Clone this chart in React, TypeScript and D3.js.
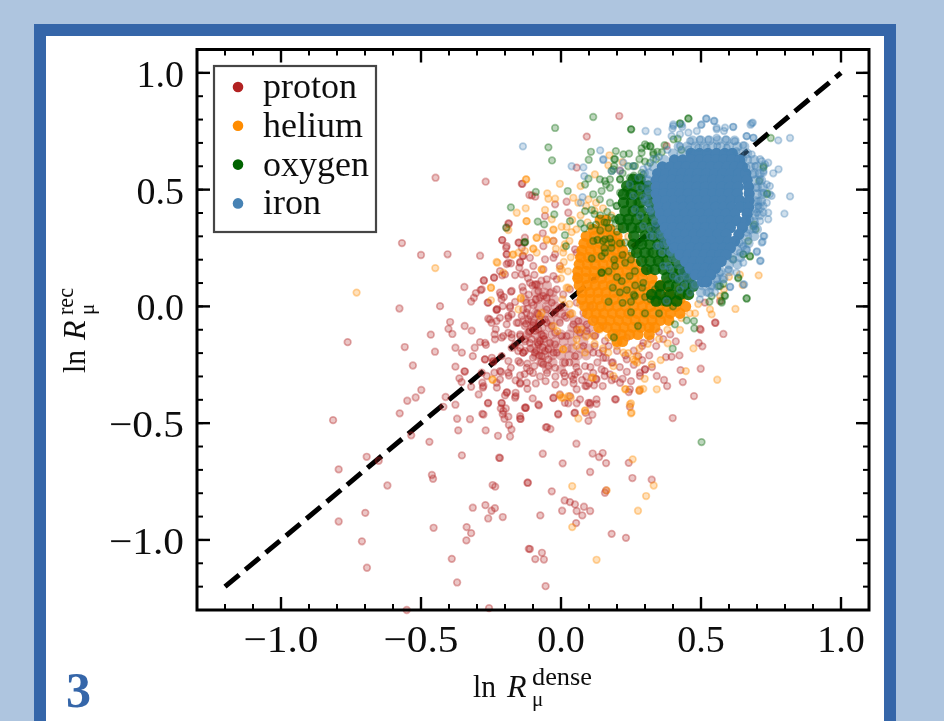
import React from "react";
import * as d3 from "d3";

type P = [number, number];
type Row = [number, number[]];

const seriesNames = ["proton", "helium", "oxygen", "iron"];
const seriesColors = ["#b22222", "#ff8c00", "#006400", "#4682b4"];
const xMajor = [-1, -0.5, 0, 0.5, 1];
const yMajor = [-1, -0.5, 0, 0.5, 1];
const xTickLabels = ["−1.0", "−0.5", "0.0", "0.5", "1.0"];
const yTickLabels = ["−1.0", "−0.5", "0.0", "0.5", "1.0"];
const diagonal: P[] = [[-1.2, -1.2], [1, 1]];

const protonPoints: P[] = [
[-0.762,-0.153],[-0.558,-0.174],[-0.465,-0.121],[-0.45,-0.194],[-0.529,-0.253],[-0.499,-0.358],[-0.519,-0.39],[-0.549,-0.404],[-0.576,-0.458],[-0.814,-0.487],[-0.412,-0.388],[-0.42,-0.43],[-0.377,-0.421],[-0.371,-0.481],[-0.325,-0.483],[-0.281,-0.46],[-0.367,-0.531],[-0.269,-0.531],[-0.535,-0.552],[-0.47,-0.58],[-0.694,-0.644],[-0.651,-0.661],[-0.794,-0.698],[-0.354,-0.638],[-0.221,-0.648],[-0.218,-0.649],[-0.461,-0.722],[-0.457,-0.738],[-0.62,-0.767],[-0.244,-0.765],[-0.235,-0.772],[-0.12,-0.755],[-0.699,-0.884],[-0.794,-0.921],[-0.315,-0.862],[-0.27,-0.851],[-0.248,-0.875],[-0.236,-0.864],[-0.26,-0.908],[-0.208,-0.902],[-0.455,-0.948],[-0.337,-0.945],[-0.321,-0.971],[-0.338,-1.002],[-0.711,-1.006],[-0.693,-1.119],[-0.39,-1.081],[-0.371,-1.182],[-0.115,-1.038],[-0.551,-1.3],[-0.257,-1.292],
[-0.396,-0.067],[-0.402,-0.096],[-0.388,-0.118],[-0.344,-0.084],[-0.319,-0.104],[-0.289,-0.153],[-0.268,-0.165],[-0.308,-0.177],[-0.377,-0.177],[-0.354,-0.198],[-0.315,-0.213],[-0.272,-0.227],[-0.247,-0.22],[-0.242,-0.238],[-0.377,-0.258],[-0.345,-0.278],[-0.343,-0.279],[-0.283,-0.284],[-0.238,-0.284],[-0.214,-0.281],[-0.363,-0.308],[-0.355,-0.324],[-0.321,-0.344],[-0.281,-0.327],[-0.279,-0.348],[-0.218,-0.313],[-0.186,-0.296],[-0.162,-0.317],[-0.146,-0.331],[-0.294,-0.377],[-0.229,-0.348],[-0.193,-0.367],[-0.2,-0.381],[-0.162,-0.384],[-0.162,-0.37],[-0.261,-0.415],[-0.212,-0.415],[-0.215,-0.437],[-0.197,-0.437],[-0.126,-0.434],[-0.208,-0.462],[-0.188,-0.472],[-0.202,-0.481],[-0.146,-0.481],[-0.186,-0.508],[-0.177,-0.527],[-0.225,-0.554],[-0.182,-0.557],
[-0.233,-0.098],[-0.237,-0.12],[-0.212,-0.134],[-0.188,-0.113],[-0.176,-0.134],[-0.146,-0.12],[-0.129,-0.141],[-0.164,-0.163],[-0.135,-0.198],[-0.153,-0.191],[-0.188,-0.234],[-0.179,-0.263],[-0.146,-0.241],[-0.122,-0.263],[-0.146,-0.296],[-0.122,-0.327],[-0.12,-0.353],
[-0.448,0.551],[-0.269,0.534],[-0.14,0.525],[-0.113,0.477],[-0.186,0.354],[-0.194,0.337],[-0.568,0.271],[-0.5,0.22],[-0.405,0.223],[-0.289,0.217],[-0.21,0.284],[-0.196,0.251],[-0.194,0.223],[-0.15,0.273],[-0.14,0.251],[-0.135,0.216],[-0.146,0.19],[-0.194,0.181],[-0.179,0.184],[-0.149,0.166],[-0.218,0.151],[-0.21,0.133],[-0.164,0.134],[-0.125,0.144],[-0.239,0.123],[-0.276,0.111],[-0.345,0.083],[-0.287,0.07],[-0.304,0.057],[-0.311,0.037],[-0.321,0.021],[-0.577,-0.009],[-0.432,0.001],[-0.215,0.049],[-0.179,0.063],[-0.138,0.083],[-0.204,0.04],[-0.164,0.019],[-0.262,0.016],[-0.23,-0.016],[-0.228,-0.012],[-0.208,0.001],[-0.123,0.016],[-0.176,-0.034],[-0.26,-0.053],[-0.218,-0.049],[-0.248,-0.07],[-0.194,-0.077],[-0.152,-0.07],[-0.129,-0.084],[-0.182,0.001],[-0.135,-0.013],[-0.188,-0.049],
[-0.138,0.525],[-0.104,0.475],[-0.092,0.47],[-0.021,0.437],[-0.057,0.387],[0.026,0.401],[0.02,0.448],[0.056,0.594],[0.092,0.727],[0.208,0.815],[0.377,0.687],[0.211,0.582],[-0.065,0.313],[-0.027,0.28],[-0.129,0.294],[-0.063,0.258],[-0.137,0.216],[-0.021,0.223],[0.514,0.016],[0.568,0.023],[0.496,-0.096],[0.55,-0.07],
[0.552,-0.07],[0.58,-0.118],[0.499,-0.1],[0.492,-0.156],[0.505,-0.171],[0.423,-0.21],[0.395,-0.216],[0.375,-0.217],[0.427,-0.273],[0.499,-0.267],[0.435,-0.324],[0.368,-0.315],[0.379,-0.341],[0.342,-0.298],[0.475,-0.384],[0.399,-0.478],[0.28,-0.36],[0.242,-0.367],[0.246,-0.43],[0.196,-0.398],[0.282,-0.284],[0.193,-0.31],[0.181,-0.316],[0.156,-0.277],[0.156,-0.298],[0.118,-0.338],[0.149,-0.341],[0.087,-0.341],[0.056,-0.355],[0.127,-0.398],[0.104,-0.42],[0.127,-0.417],[0.098,-0.413],[0.056,-0.415],[0.026,-0.415],[0.014,-0.413],[-0.027,-0.393],[-0.079,-0.424],[-0.101,-0.394],[-0.126,-0.434],[-0.144,-0.482],[-0.01,-0.46],[0.048,-0.457],[0.112,-0.464],[0.098,-0.49],[0.088,-0.456],
[-0.054,-0.518],[-0.05,-0.517],[-0.038,-0.525],[0.055,-0.588],[-0.065,-0.631],[0.113,-0.63],[0.149,-0.628],[0.136,-0.645],[0.161,-0.671],[0.242,-0.67],[0.006,-0.672],[0.104,-0.709],[0.255,-0.735],[0.324,-0.742],[-0.118,-0.755],[-0.033,-0.792],[0.161,-0.788],[0.157,-0.798],[0.013,-0.831],[0.032,-0.838],[0.05,-0.848],[0.082,-0.858],[0.004,-0.875],[0.056,-0.876],[0.076,-0.895],[0.104,-0.876],[-0.074,-0.895],[0.054,-0.928],[0.181,-0.974],[0.232,-0.991],[-0.111,-1.039],[-0.068,-1.055],[-0.092,-1.082],[-0.061,-1.084],[-0.055,-1.198],
];

const protonBodyPoints: P[] = [
[-0.188,0.355],[-0.21,0.284],[-0.152,0.273],[-0.129,0.273],[-0.194,0.258],[-0.194,0.223],[-0.111,0.208],[-0.146,0.187],[-0.188,0.187],[-0.057,0.201],[-0.027,0.208],[-0.099,0.173],[-0.063,0.158],[-0.239,0.123],[-0.275,0.111],[-0.2,0.137],[-0.14,0.137],[-0.283,0.073],[-0.111,0.101],[-0.087,0.094],[-0.051,0.116],[-0.027,0.13],[-0.004,0.173],[-0.218,0.059],[-0.176,0.066],[-0.212,0.03],[-0.23,-0.013],[-0.26,0.016],[-0.182,-0.006],[-0.14,-0.041],[-0.105,0.016],[-0.075,0.037],[-0.039,0.059],[-0.015,0.073],[-0.135,0.066],[-0.254,-0.056],[-0.23,-0.063],[-0.188,-0.041],[-0.158,-0.07],[-0.117,-0.056],[-0.081,-0.034],[-0.051,-0.013],[-0.021,-0.027],[0.008,0.051],[0.032,0.073],[0.056,0.13],[-0.271,-0.156],[-0.236,-0.141],[-0.206,-0.127],[-0.176,-0.12],[-0.146,-0.127],[-0.111,-0.106],[-0.081,-0.099],[-0.051,-0.07],[-0.021,-0.113],[0.014,-0.041],[0.056,0.016],[0.08,-0.027],[0.104,0.001],[-0.271,-0.227],[-0.242,-0.234],[-0.212,-0.213],[-0.176,-0.177],[-0.146,-0.177],[-0.111,-0.156],[-0.075,-0.148],[-0.039,-0.156],[-0.015,-0.198],[0.02,-0.127],[0.056,-0.099],[0.092,-0.106],[0.121,-0.056],[0.151,-0.084],[-0.265,-0.298],[-0.218,-0.277],[-0.188,-0.284],[-0.152,-0.234],[-0.129,-0.191],[-0.093,-0.198],[-0.057,-0.191],[-0.027,-0.198],[0.014,-0.241],[0.05,-0.213],[0.08,-0.17],[0.121,-0.127],[0.157,-0.148],[0.199,-0.113],[0.235,-0.134],[-0.277,-0.341],[-0.23,-0.327],[-0.194,-0.37],[-0.146,-0.327],[-0.111,-0.277],[-0.063,-0.248],[-0.021,-0.263],[0.014,-0.298],[0.05,-0.291],[0.086,-0.256],[0.115,-0.198],[0.151,-0.22],[0.181,-0.241],[0.235,-0.227],[0.276,-0.213],[0.294,-0.156],[-0.26,-0.413],[-0.212,-0.413],[-0.164,-0.391],[-0.129,-0.434],[-0.081,-0.42],[-0.027,-0.391],[-0.004,-0.377],[0.044,-0.313],[0.092,-0.341],[0.127,-0.313],[0.175,-0.291],[0.211,-0.327],[0.246,-0.355],[0.282,-0.298],[0.3,-0.27],[-0.277,-0.463],[-0.206,-0.448],[-0.146,-0.47],[-0.01,-0.463],[0.05,-0.455],[0.104,-0.413],[0.193,-0.398],[0.032,-0.384],[0.068,-0.398],
[-0.093,0.094],[-0.081,0.066],[-0.051,0.037],[-0.033,0.016],[-0.004,-0.006],[0.02,-0.049],[0.044,-0.077],[0.068,-0.113],[-0.057,-0.056],[-0.033,-0.084],[-0.004,-0.07],[-0.063,-0.127],[-0.045,-0.184],[-0.021,-0.163],[-0.069,-0.213],[-0.045,-0.227],[-0.123,-0.027],[-0.099,-0.07],[0.038,-0.298],[-0.135,-0.198],[-0.081,-0.163],[0.002,-0.127],[0.062,-0.063],[0.092,-0.077],[-0.015,0.116],[0.056,0.23],[0.05,0.244],
[-0.118,0.12],[-0.095,0.135],[-0.07,0.11],[-0.102,0.09],[-0.115,0.05],[-0.09,0.03],[-0.063,0.045],[-0.12,-0.01],[-0.098,0.005],[-0.11,-0.04],[-0.085,-0.03],[-0.125,-0.075],[-0.1,-0.08],[-0.078,-0.065],[-0.115,-0.11],[-0.092,-0.105],[-0.07,-0.12],[-0.128,-0.15],[-0.105,-0.14],[-0.083,-0.155],[-0.06,-0.14],[-0.11,-0.18],[-0.088,-0.19],[-0.065,-0.175],[-0.1,-0.22],[-0.078,-0.21],[-0.12,-0.245],[-0.095,-0.255],[-0.07,-0.24],[-0.045,-0.255],[0.03,-0.24],[0.055,-0.26],[0.105,-0.26],[0.13,-0.24],[-0.13,-0.29],[-0.1,-0.285],[-0.075,-0.3],[-0.05,-0.285],[-0.02,-0.3],[0.01,-0.285],[0.062,-0.28],[0.09,-0.3],[0.115,-0.285],[0.145,-0.27],[-0.09,-0.33],[-0.055,-0.32],[-0.02,-0.335],[0.012,-0.325],[0.045,-0.33],[0.075,-0.315],[0.1,-0.33],[0.125,-0.31],
[0.12,-0.17],[0.135,-0.2],[0.16,-0.22],[0.185,-0.24],[0.21,-0.26],[0.235,-0.28],[0.26,-0.25],[0.29,-0.23],[0.315,-0.21],[0.34,-0.17],[0.365,-0.14],[0.39,-0.12],[0.41,-0.15],[0.3,-0.27],[0.325,-0.26],[0.22,-0.31],[0.25,-0.32],[0.15,-0.19],[0.17,-0.17],[0.2,-0.19],[0.23,-0.21],[0.26,-0.19],[0.29,-0.17],[0.32,-0.14],[0.35,-0.11],
];

const heliumPoints: P[] = [
[-0.244,-0.314],[-0.73,0.059],[-0.449,0.164],[-0.125,0.544],[-0.126,0.42],[-0.158,0.401],[-0.123,0.365],[-0.188,0.327],[-0.173,0.221],[-0.152,0.23],[-0.129,0.237],[-0.227,0.187],[-0.206,0.144],[-0.25,0.08],[-0.25,0.026],[-0.144,0.033],[-0.152,-0.013],
[-0.124,0.544],[-0.004,0.525],[-0.049,0.484],[-0.045,0.461],[-0.021,0.461],[-0.057,0.413],[-0.033,0.373],[0.002,0.341],[-0.027,0.327],[0.038,0.318],[-0.087,0.294],[-0.051,0.283],[-0.099,0.247],[-0.087,0.23],[-0.018,0.247],[-0.069,0.158],[0.002,0.158],[0.121,0.565],[0.169,0.604],[0.173,0.647],[0.219,0.618],[0.07,0.515],[0.044,0.465],[0.062,0.444],[0.098,0.458],[0.125,0.444],[0.639,0.136],[0.6,0.127],[0.706,0.133],[0.649,0.091],[0.623,-0.011],[0.532,-0.013],[0.479,-0.03],[0.538,-0.034],[0.568,0.044],[0.582,0.073],
[0.558,-0.314],[0.446,-0.277],[0.473,-0.18],[0.356,-0.23],[0.324,-0.248],[0.264,-0.234],[0.272,-0.24],[0.381,-0.158],[0.425,-0.101],[0.342,-0.355],[0.294,-0.353],[0.28,-0.362],[0.231,-0.354],[0.25,-0.415],[0.25,-0.458],[0.299,-0.31],[0.187,-0.298],[0.11,-0.305],[-0.004,-0.381],[0.008,-0.391],[0.035,-0.391],[0.086,-0.445],[0.062,-0.48],[0.256,-0.655],[0.04,-0.77],[0.163,-0.788],[0.331,-0.767],[0.304,-0.812],[0.275,-0.875],[0.04,-0.945],[0.127,-1.085],[0.086,-0.198],[0.169,-0.198],[0.008,-0.184],
[0.095,0.36],[0.07,0.39],[0.04,0.37],[0.055,0.33],[0.02,0.34],[0.03,0.28],[0.01,0.25],[0.035,0.21],[0.01,0.19],[0.025,0.15],[0.0,0.12],[0.02,0.08],[0.005,0.03],[0.03,0.01],[0.04,-0.03],[0.06,-0.1],[0.09,-0.13],[0.12,-0.16],[0.15,-0.18],[0.2,-0.17],[0.24,-0.2],[0.28,-0.18],[0.31,-0.16],[0.35,-0.14],[0.38,-0.1],[0.43,-0.05],[0.46,-0.03],[0.49,0.01],[0.46,0.05],[0.42,0.075],[0.38,0.11],[0.3,0.2],[0.27,0.24],[0.24,0.3],[0.21,0.34],[0.18,0.39],[0.15,0.42],[0.12,0.41],[0.09,0.43],[0.25,0.27],
[-0.23,0.19],[-0.25,0.08],[-0.143,0.037],[-0.17,0.223],[-0.123,0.365],[-0.087,0.294],[-0.099,0.247],[-0.051,0.287],[-0.069,0.158],[-0.004,0.161],[-0.027,0.33],[0.026,0.08],[-0.075,-0.041],[-0.069,-0.027],[-0.027,-0.084],[-0.013,-0.106],[0.008,-0.184],[0.056,-0.141],[0.074,-0.099],[0.115,-0.127],[0.139,-0.099],[0.169,-0.134],[0.187,-0.256],[0.258,-0.227],[0.27,-0.213],[0.223,-0.198],[-0.245,-0.313],[0.026,-0.384],[0.002,-0.391],[0.229,-0.355],[0.282,-0.355],[0.246,-0.42],[0.252,-0.455],[0.115,-0.305],[0.086,-0.448],[0.056,-0.17],[0.032,-0.034],[0.068,0.009],[0.056,0.123],[0.068,0.216],[0.008,0.23],[0.014,0.266],[-0.027,0.28],
];

const oxygenPoints: P[] = [
[-0.179,0.424],[-0.196,0.337],[-0.131,0.274],[0.115,0.811],[-0.021,0.764],[0.25,0.758],[-0.045,0.681],[-0.032,0.625],[0.107,0.662],[0.099,0.628],[0.196,0.665],[0.223,0.651],[0.243,0.654],[0.455,0.805],[0.425,0.782],[0.402,0.715],[0.417,0.718],[0.306,0.687],[0.32,0.684],[0.288,0.677],[0.344,0.662],[0.749,0.721],[0.19,0.63],[0.19,0.601],[0.181,0.58],[0.098,0.547],[0.086,0.522],[0.024,0.494],[-0.09,0.49],[-0.128,0.276],[-0.083,0.363],[-0.06,0.351],[-0.024,0.394],[0.014,0.305],[0.018,0.258],[0.032,0.365],[0.07,0.355],[0.083,0.334],[0.086,0.408],[0.11,0.413],
[0.139,0.544],[0.175,0.544],[0.161,0.522],[0.211,0.544],[0.264,0.601],[0.288,0.572],[0.318,0.615],[0.235,0.501],[0.145,0.494],[0.115,0.48],[0.139,0.458],[0.175,0.444],[0.199,0.43],
[0.723,0.601],[0.708,0.537],[0.737,0.484],[0.69,0.351],[0.695,0.33],[0.669,0.28],[0.651,0.223],[0.675,0.213],[0.615,0.201],[0.633,0.12],[0.663,0.034],[0.574,0.016],[0.584,0.047],[0.58,0.097],[0.538,0.044],[0.562,0.087],
[0.399,-0.181],[0.502,-0.581],[0.189,-0.133],[0.275,-0.084],[0.407,-0.077],[0.476,-0.094],[0.449,-0.06],[0.475,-0.063],
[0.12,0.395],[0.14,0.39],[0.165,0.405],[0.18,0.38],[0.155,0.36],[0.125,0.35],[0.105,0.345],[0.14,0.325],[0.17,0.335],[0.195,0.355],[0.2,0.32],[0.13,0.285],[0.15,0.28],[0.175,0.29],[0.115,0.28],[0.155,0.25],[0.18,0.25],[0.11,0.205],[0.145,0.215],[0.19,0.2],[0.21,0.27],[0.22,0.22],[0.25,0.2],[0.145,0.145],[0.17,0.15],[0.2,0.125],[0.245,0.13],[0.265,0.09],[0.29,0.08],[0.185,0.08],[0.21,0.06],[0.235,0.07],[0.26,0.05],[0.3,0.04],[0.32,0.03],[0.17,0.02],[0.22,0.015],[0.25,0.02],[0.36,0.02],[0.3,-0.03],[0.25,-0.025],[0.35,-0.03],[0.4,0.0],[0.53,0.02],
[0.3,0.62],[0.34,0.63],[0.36,0.66],[0.37,0.69],[0.33,0.65],[0.28,0.63],[0.24,0.6],[0.22,0.57],[0.26,0.56],[0.43,0.67],[0.46,0.66],
[0.318,0.687],[0.3,0.694],[0.33,0.658],[0.288,0.658],[0.258,0.601],[0.294,0.565],[0.246,0.551],[0.211,0.544],[0.187,0.587],[0.193,0.63],[0.157,0.537],[0.175,0.508],[0.211,0.487],[0.199,0.43],[0.24,0.473],[0.27,0.444],[0.163,0.358],[0.193,0.373],[0.157,0.287],[0.181,0.273],[0.157,0.23],[0.193,0.173],[0.229,0.187],[0.145,0.144],[0.264,0.151],[0.294,0.101],[0.264,0.044],[0.217,0.108],[0.318,0.23],[0.347,0.194],[0.336,0.073],[0.395,0.13],[0.413,0.116],[0.449,0.066],[0.24,0.358],[0.27,0.33],[0.229,0.273],[0.282,0.273],[0.318,0.158],[0.252,0.23],[0.574,0.023],[0.633,0.123],[0.663,0.034],[0.675,0.216],[0.651,0.223],[0.687,0.344],[0.723,0.594],[0.735,0.48],[0.568,0.087],[0.586,0.044],[0.425,0.784],[0.455,0.804],[0.251,0.758],
];

const ironPoints: P[] = [
[-0.136,0.685],[0.302,0.751],[0.345,0.748],[0.401,0.779],[0.398,0.761],[0.433,0.768],[0.5,0.777],[0.518,0.804],[0.548,0.794],[0.556,0.765],[0.615,0.768],[0.582,0.751],[0.685,0.787],[0.677,0.778],[0.663,0.729],[0.687,0.722],[0.776,0.711],[0.818,0.721],[0.777,0.587],[0.758,0.57],[0.818,0.471],[0.798,0.397],[0.726,0.301],[0.72,0.277],[0.7,0.236],[0.713,0.196],[0.604,0.084],[0.654,0.094],[0.14,0.668],[0.151,0.627],[0.038,0.6],[0.08,0.595],[0.083,0.558],[0.077,0.468],[0.071,0.444],
[0.74,0.615],[0.717,0.622],[0.723,0.572],[0.746,0.515],[0.752,0.473],[0.735,0.444],[0.723,0.401],[0.74,0.373],[0.705,0.43],[0.687,0.33],[0.651,0.258],[0.639,0.23],[0.58,0.116],
[0.401,0.772],[0.431,0.779],[0.395,0.729],[0.425,0.737],[0.455,0.744],[0.485,0.751],[0.502,0.779],[0.52,0.804],[0.546,0.794],[0.556,0.758],[0.586,0.765],[0.615,0.769],[0.681,0.784],[0.461,0.708],[0.496,0.715],[0.526,0.715],[0.556,0.722],[0.589,0.715],[0.621,0.708],[0.651,0.69],[0.425,0.687],[0.455,0.672],[0.49,0.68],[0.52,0.68],[0.558,0.687],[0.592,0.68],[0.627,0.665],[0.663,0.729],[0.687,0.722],
[0.651,0.63],[0.681,0.651],[0.711,0.63],[0.729,0.608],[0.663,0.594],[0.693,0.601],[0.723,0.58],[0.687,0.565],[0.711,0.544],[0.735,0.522],[0.699,0.508],[0.723,0.487],[0.746,0.48],[0.705,0.451],[0.723,0.43],[0.74,0.401],[0.699,0.401],[0.675,0.373],[0.711,0.365],[0.693,0.344],[0.663,0.315],[0.723,0.301],[0.717,0.273],[0.639,0.273],[0.663,0.244],[0.699,0.233],[0.711,0.194],[0.651,0.187],[0.615,0.201],[0.598,0.158],[0.627,0.144],[0.568,0.144],[0.604,0.083],[0.651,0.094],[0.556,0.116],[0.538,0.087],
[0.294,0.587],[0.276,0.551],[0.246,0.522],[0.282,0.508],[0.258,0.473],[0.294,0.465],[0.312,0.494],[0.282,0.387],[0.264,0.415],[0.318,0.408],[0.294,0.344],[0.336,0.358],[0.318,0.301],[0.354,0.308],[0.342,0.258],[0.377,0.273],[0.389,0.23],[0.365,0.173],[0.383,0.173],[0.419,0.116],[0.449,0.13],[0.377,0.023],[0.425,0.073],[0.461,0.059],[0.258,0.601],[0.211,0.58],[0.181,0.58],[0.151,0.63],[0.223,0.615],[0.479,0.094],[0.52,0.059],[0.55,0.059],[0.496,0.03],
[0.38,0.67],[0.35,0.64],[0.33,0.63],[0.31,0.6],[0.3,0.57],[0.31,0.54],[0.3,0.45],[0.31,0.42],[0.32,0.33],[0.33,0.3],[0.35,0.26],[0.36,0.23],[0.39,0.16],[0.4,0.13],[0.425,0.12],[0.44,0.09],
];

const ironHaloRows: Row[] = [
[0.71,[0.47,0.5,0.53,0.56,0.59,0.62]],
[0.685,[0.42,0.45,0.48,0.51,0.54,0.57,0.6,0.63,0.655]],
[0.655,[0.4,0.43,0.635,0.665]],
[0.627,[0.37,0.665,0.69]],
[0.598,[0.33,0.675,0.7]],
[0.569,[0.315,0.69,0.71]],
[0.54,[0.31,0.695,0.715]],
[0.51,[0.31,0.7,0.72]],
[0.48,[0.31,0.7,0.72]],
[0.45,[0.31,0.695,0.715]],
[0.42,[0.32,0.695,0.71]],
[0.39,[0.33,0.69,0.71]],
[0.36,[0.34,0.69]],
[0.33,[0.35,0.675,0.7]],
[0.3,[0.36,0.665,0.69]],
[0.27,[0.37,0.645,0.67]],
[0.24,[0.385,0.63,0.66]],
[0.21,[0.4,0.61,0.64]],
[0.18,[0.42,0.6,0.63]],
[0.15,[0.435,0.57,0.6]],
[0.12,[0.455,0.555,0.58]],
[0.09,[0.475,0.505,0.535,0.56]],
[0.06,[0.5,0.53]],
];

const ironCoreRows: Row[] = [
[0.655,[0.465,0.495,0.525,0.555,0.585,0.612]],
[0.627,[0.405,0.435,0.465,0.495,0.525,0.553,0.582,0.61,0.638]],
[0.598,[0.362,0.39,0.42,0.448,0.478,0.507,0.536,0.565,0.594,0.622,0.648]],
[0.569,[0.345,0.375,0.403,0.433,0.462,0.49,0.52,0.55,0.578,0.607,0.635,0.66]],
[0.54,[0.34,0.368,0.397,0.426,0.455,0.485,0.513,0.542,0.57,0.6,0.63,0.665]],
[0.511,[0.34,0.37,0.4,0.43,0.458,0.487,0.516,0.545,0.575,0.604,0.633,0.67]],
[0.482,[0.34,0.368,0.397,0.426,0.455,0.485,0.513,0.542,0.57,0.6,0.63,0.672]],
[0.453,[0.345,0.375,0.403,0.433,0.462,0.49,0.52,0.55,0.578,0.607,0.64,0.672]],
[0.424,[0.35,0.38,0.408,0.438,0.466,0.495,0.525,0.553,0.582,0.61,0.64,0.67]],
[0.395,[0.355,0.385,0.414,0.443,0.472,0.5,0.53,0.56,0.59,0.62,0.665]],
[0.366,[0.365,0.395,0.424,0.452,0.48,0.51,0.54,0.57,0.6,0.63,0.66]],
[0.337,[0.372,0.4,0.43,0.46,0.488,0.516,0.545,0.575,0.605,0.648]],
[0.308,[0.385,0.415,0.445,0.474,0.503,0.532,0.56,0.59,0.635]],
[0.279,[0.395,0.425,0.453,0.482,0.51,0.54,0.57,0.598,0.62]],
[0.25,[0.405,0.435,0.465,0.494,0.522,0.552,0.58,0.605]],
[0.221,[0.425,0.455,0.483,0.512,0.54,0.568,0.59]],
[0.192,[0.445,0.473,0.5,0.53,0.558,0.572]],
[0.163,[0.46,0.488,0.516,0.544,0.552]],
[0.134,[0.48,0.508,0.535]],
[0.105,[0.505,0.52]],
];

const oxygenCoreRows: Row[] = [
[0.544,[0.258,0.282]],
[0.515,[0.235,0.264,0.294,0.312]],
[0.48,[0.223,0.252,0.282,0.312]],
[0.444,[0.223,0.252,0.282,0.318]],
[0.408,[0.229,0.258,0.287,0.324]],
[0.373,[0.211,0.24,0.27,0.3,0.33]],
[0.337,[0.223,0.252,0.282,0.318,0.342]],
[0.301,[0.26,0.3,0.33,0.36]],
[0.266,[0.258,0.288,0.318,0.347,0.37]],
[0.23,[0.27,0.3,0.33,0.36,0.39]],
[0.194,[0.288,0.318,0.348,0.378,0.413]],
[0.158,[0.306,0.336,0.366,0.396,0.425,0.443]],
[0.123,[0.378,0.407,0.437,0.46]],
[0.087,[0.354,0.384,0.413,0.443,0.472]],
[0.051,[0.324,0.354,0.39,0.425,0.455]],
[0.023,[0.34,0.378,0.413]],
];

const heliumCoreRows: Row[] = [
[0.37,[0.14,0.16]],
[0.33,[0.115,0.145,0.175]],
[0.3,[0.09,0.12,0.15,0.18,0.2]],
[0.27,[0.082,0.11,0.14,0.168,0.197,0.21]],
[0.24,[0.075,0.105,0.133,0.162,0.19,0.22]],
[0.21,[0.07,0.098,0.127,0.155,0.185,0.213,0.245]],
[0.18,[0.065,0.094,0.122,0.15,0.18,0.21,0.24,0.265]],
[0.15,[0.06,0.09,0.118,0.147,0.175,0.205,0.235,0.265,0.295]],
[0.12,[0.06,0.088,0.116,0.145,0.173,0.202,0.23,0.26,0.29,0.325]],
[0.09,[0.065,0.093,0.122,0.15,0.18,0.21,0.24,0.27,0.3,0.33,0.355]],
[0.06,[0.075,0.103,0.132,0.16,0.19,0.22,0.25,0.28,0.31,0.34,0.385]],
[0.03,[0.075,0.104,0.133,0.162,0.19,0.22,0.25,0.28,0.31,0.34,0.37,0.4,0.425]],
[0.0,[0.085,0.113,0.142,0.17,0.2,0.23,0.26,0.29,0.32,0.35,0.38,0.41,0.445]],
[-0.03,[0.095,0.125,0.153,0.183,0.212,0.242,0.272,0.3,0.33,0.36,0.39,0.425]],
[-0.06,[0.115,0.145,0.175,0.205,0.235,0.265,0.295,0.325,0.355,0.385]],
[-0.09,[0.135,0.165,0.195,0.225,0.255,0.285,0.315,0.335]],
[-0.12,[0.185,0.215,0.245,0.275,0.315]],
[-0.15,[0.2,0.22]],
];

const protonCoreRows: Row[] = [
[0.09,[-0.08,-0.05]],
[0.06,[-0.09,-0.06,-0.03]],
[0.03,[-0.13,-0.085,-0.055,-0.025]],
[0.0,[-0.08,-0.05,-0.02,0.01]],
[-0.03,[-0.09,-0.06,-0.03,0.0,0.03]],
[-0.06,[-0.13,-0.1,-0.07,-0.04,-0.01,0.05,0.08]],
[-0.09,[-0.1,-0.07,-0.04,0.04,0.07,0.1]],
[-0.12,[-0.12,-0.09,-0.06,-0.03,0.0,0.03,0.06,0.09,0.12]],
[-0.15,[-0.08,-0.05,-0.02,0.01,0.04,0.08]],
[-0.18,[-0.1,-0.07,-0.04,-0.01,0.02,0.04,0.07,0.1]],
[-0.21,[-0.09,-0.06,-0.03,0.0,0.03,0.06,0.09]],
[-0.24,[-0.07,-0.03,0.01,0.05]],
[-0.27,[-0.05,0.0]],
];

const flatten = (rows: Row[]): P[] => rows.flatMap(([y, xs]) => xs.map((x): P => [x, y]));

const W = 944, H = 721;
const x = d3.scaleLinear().domain([-1.3, 1.1]).range([197, 869]);
const y = d3.scaleLinear().domain([-1.3, 1.1]).range([610, 49.5]);
const xMinor = d3.range(-1.2, 1.05, 0.1).map(v => +v.toFixed(1));
const yMinor = d3.range(-1.2, 1.05, 0.1).map(v => +v.toFixed(1));
const line = d3.line<P>().x(d => x(d[0])).y(d => y(d[1]));
const SERIF = "'Liberation Serif', serif";

function Rings({ data, color }: { data: P[]; color: string }) {
  return <g>{data.map((d, i) => (
    <circle key={i} cx={x(d[0])} cy={y(d[1])} r={3.3} fill={color} fillOpacity={0.26} stroke={color} strokeOpacity={0.36} strokeWidth={1.7} />
  ))}</g>;
}
function Core({ rows, color, r, opacity }: { rows: Row[]; color: string; r: number; opacity: number }) {
  return <g>{flatten(rows).map((d, i) => (
    <circle key={i} cx={x(d[0])} cy={y(d[1])} r={r} fill={color} fillOpacity={opacity} />
  ))}</g>;
}

export default function App() {
  const [cRed, cOrange, cGreen, cBlue] = seriesColors;
  return (
    <svg width={W} height={H} viewBox={`0 0 ${W} ${H}`} style={{ position: "absolute", left: 0, top: 0, display: "block" }} fontFamily={SERIF}>
      <defs>
        <filter id="soft" x="0" y="0" width={W} height={H} filterUnits="userSpaceOnUse">
          <feGaussianBlur stdDeviation={0.65} />
        </filter>
      </defs>
      <rect width={W} height={H} fill="#aec5df" />
      <rect x={34} y={24} width={862} height={H} fill="#3566a9" />
      <rect x={46} y={36} width={838} height={H} fill="#ffffff" />
      <g filter="url(#soft)">
        <path d={line(diagonal) ?? ""} fill="none" stroke="#000" strokeWidth={5} strokeDasharray="18.5 8" />
        <Rings data={protonPoints} color={cRed} />
        <Rings data={protonBodyPoints} color={cRed} />
        <Core rows={protonCoreRows} color={cRed} r={5} opacity={0.32} />
        <Core rows={heliumCoreRows} color={cOrange} r={5.6} opacity={0.9} />
        <Rings data={heliumPoints} color={cOrange} />
        <Core rows={oxygenCoreRows} color={cGreen} r={5.8} opacity={0.85} />
        <Rings data={oxygenPoints} color={cGreen} />
        <Core rows={ironHaloRows} color={cBlue} r={5} opacity={0.45} />
        <Core rows={ironCoreRows} color={cBlue} r={5.6} opacity={1} />
        <Rings data={ironPoints} color={cBlue} />

        <rect x={197} y={49.5} width={672} height={560.5} fill="none" stroke="#000" strokeWidth={3} />
        {xMinor.map(v => <g key={v} stroke="#000" strokeWidth={2}>
          <line x1={x(v)} x2={x(v)} y1={610} y2={604} /><line x1={x(v)} x2={x(v)} y1={49.5} y2={55.5} /></g>)}
        {yMinor.map(v => <g key={v} stroke="#000" strokeWidth={2}>
          <line y1={y(v)} y2={y(v)} x1={197} x2={203} /><line y1={y(v)} y2={y(v)} x1={869} x2={863} /></g>)}
        {xMajor.map(v => <g key={v} stroke="#000" strokeWidth={2.4}>
          <line x1={x(v)} x2={x(v)} y1={610} y2={597} /><line x1={x(v)} x2={x(v)} y1={49.5} y2={62.5} /></g>)}
        {yMajor.map(v => <g key={v} stroke="#000" strokeWidth={2.4}>
          <line y1={y(v)} y2={y(v)} x1={197} x2={210} /><line y1={y(v)} y2={y(v)} x1={869} x2={856} /></g>)}

        {xMajor.map((v, i) => <text key={v} x={x(v)} y={652} fontSize={38} textAnchor="middle" fill="#111"
          {...(v < 0 ? { textLength: 75, lengthAdjust: "spacingAndGlyphs" } : {})}>{xTickLabels[i]}</text>)}
        {yMajor.map((v, i) => <text key={v} x={184} y={y(v) + 14} fontSize={38} textAnchor="end" fill="#111"
          {...(v < 0 ? { textLength: 75, lengthAdjust: "spacingAndGlyphs" } : {})}>{yTickLabels[i]}</text>)}

        <rect x={214} y={66} width={162} height={166} fill="#fff" stroke="#444" strokeWidth={2.2} />
        {seriesNames.map((s, i) => {
          const cy = 87 + i * 38.8;
          return <g key={s}>
            <circle cx={238} cy={cy} r={5.3} fill={seriesColors[i]} />
            <text x={263} y={cy + 11} fontSize={36} fill="#111">{s}</text>
          </g>;
        })}

        <text x={473} y={697} fontSize={31} fill="#111" textLength={23} lengthAdjust="spacingAndGlyphs">ln</text>
        <text x={507} y={697} fontSize={32} fontStyle="italic" fill="#111">R</text>
        <text x={532} y={685} fontSize={25} fill="#111" textLength={60} lengthAdjust="spacingAndGlyphs">dense</text>
        <text x={532} y={706} fontSize={21} fill="#111">μ</text>

        <g transform="translate(85,373) rotate(-90)">
          <text x={0} y={0} fontSize={31} fill="#111" textLength={23} lengthAdjust="spacingAndGlyphs">ln</text>
          <text x={33} y={0} fontSize={32} fontStyle="italic" fill="#111">R</text>
          <text x={58} y={-12} fontSize={24} fill="#111" textLength={27} lengthAdjust="spacingAndGlyphs">rec</text>
          <text x={58} y={9} fontSize={21} fill="#111">μ</text>
        </g>
      </g>
      <text x={66} y={707} fontSize={50} fontWeight="bold" fill="#3566a9">3</text>
    </svg>
  );
}
